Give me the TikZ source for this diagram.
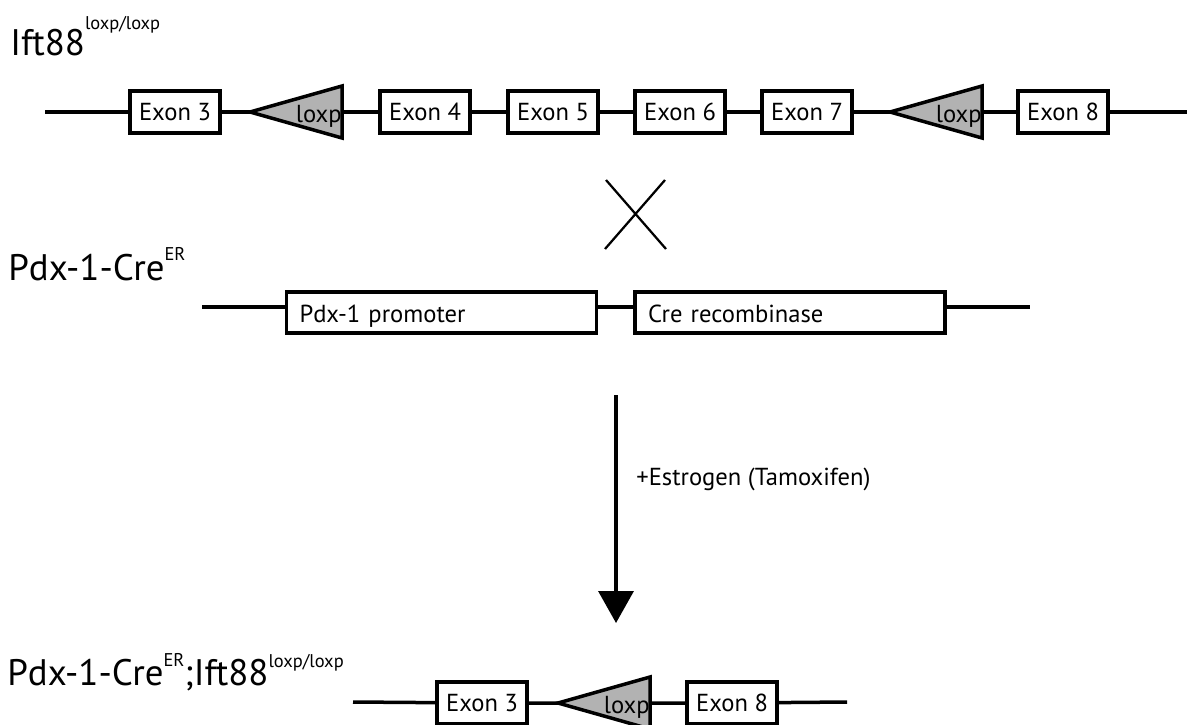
\documentclass[tikz,border=0pt]{standalone}
\usepackage{fontspec}
\setmainfont{PT Sans}
\usetikzlibrary{positioning, shapes.geometric, arrows.meta}

% small raised allele names
\newcommand{\allele}[2][4mm]{\raisebox{#1}{\fontsize{10.5}{12}\selectfont #2}}

\tikzset{
  dna/.style={line width=0.7mm},
  exon/.style={draw, line width=0.7mm, fill=white, minimum width=18mm,
    minimum height=8.4mm, inner sep=0pt, outer sep=0pt,
    font=\fontsize{14}{16}\selectfont},
  genebox/.style={draw, line width=0.7mm, fill=white, minimum height=8.2mm,
    inner xsep=2.6mm, inner ysep=0pt, text width=56.8mm, align=left,
    text height=4.6mm, text depth=0.8mm, font=\fontsize{14}{16}\selectfont},
  loxp/.style={draw, line width=0.7mm, fill=gray!60, isosceles triangle,
    isosceles triangle stretches, shape border rotate=180,
    minimum width=10.4mm, minimum height=18.4mm, inner sep=0pt, outer sep=0pt},
  loxlabel/.style={anchor=east, inner sep=0pt, yshift=-0.8mm,
    font=\fontsize{14}{16}\selectfont},
  title/.style={anchor=base west, inner sep=0pt, font=\fontsize{21}{24}\selectfont},
}

\begin{document}
\begin{tikzpicture}[x=0.2mm, y=-0.2mm]
        \useasboundingbox (0,0) rectangle (1187,724);
%
        % floxed allele
        \node[title] (flox) at (10,55) {Ift88\allele[5.2mm]{loxp/loxp}};
        \coordinate (topL) at (45,112);
        \coordinate (topR) at (1187,112);
        \node[exon] (ex3) at (175,112) {Exon 3};
        \node[loxp, right=6mm of ex3] (lox1) {};
        \node[exon, right=7.6mm of lox1] (ex4) {Exon 4};
        \node[exon, right=7.6mm of ex4] (ex5) {Exon 5};
        \node[exon, right=7.4mm of ex5] (ex6) {Exon 6};
        \node[exon, right=7.4mm of ex6] (ex7) {Exon 7};
        \node[loxp, right=7.6mm of ex7] (lox2) {};
        \node[exon, right=7.2mm of lox2] (ex8) {Exon 8};
        \node[loxlabel] at (lox1.east) {loxp};
        \node[loxlabel] at (lox2.east) {loxp};
        \draw[dna] (topL) -- (ex3) -- (lox1) -- (ex4) -- (ex5) -- (ex6)
            -- (ex7) -- (lox2) -- (ex8) -- (topR);
%
        % cross
        \coordinate (xa) at (606,180);
        \coordinate (xb) at (666,249);
        \coordinate (xc) at (665,180);
        \coordinate (xd) at (605,249);
        \draw[line width=0.45mm] (xa) -- (xb) (xc) -- (xd);
%
        % cre driver
        \node[title] (driver) at (8,280) {Pdx-1-Cre\allele{ER}};
        \coordinate (midL) at (202,307);
        \coordinate (midR) at (1030,307);
        \node[genebox] (pdx) at (441.5,312.5) {Pdx-1 promoter};
        \node[genebox] (cre) at (790,312.5) {Cre recombinase};
        \draw[dna] (midL) -- (pdx.west |- midL)
            (pdx.east |- midL) -- (cre.west |- midL)
            (cre.east |- midL) -- (midR);
%
        % induction
        \coordinate (arrTop) at (616,395);
        \coordinate (arrEnd) at (616,623);
        \draw[dna, -{Triangle[width=7mm, length=6.4mm]}] (arrTop) -- (arrEnd);
        \node[anchor=base west, inner sep=0pt, font=\fontsize{14}{16}\selectfont]
            (tam) at (636,485) {+Estrogen (Tamoxifen)};
%
        % recombined allele
        \node[title] (deleted) at (7,685) {Pdx-1-Cre\allele[3.8mm]{ER};Ift88\allele[3.6mm]{loxp/loxp}};
        \coordinate (botL) at (353,702);
        \coordinate (botR) at (847,702);
        \node[exon] (ex3b) at (482,703) {Exon 3};
        \node[loxp, right=6.2mm of ex3b] (lox3) {};
        \node[exon, right=7.4mm of lox3] (ex8b) {Exon 8};
        \node[loxlabel] at (lox3.east) {loxp};
        \draw[dna] (botL) -- (ex3b) -- (lox3) -- (ex8b) -- (botR);
\end{tikzpicture}
\end{document}
